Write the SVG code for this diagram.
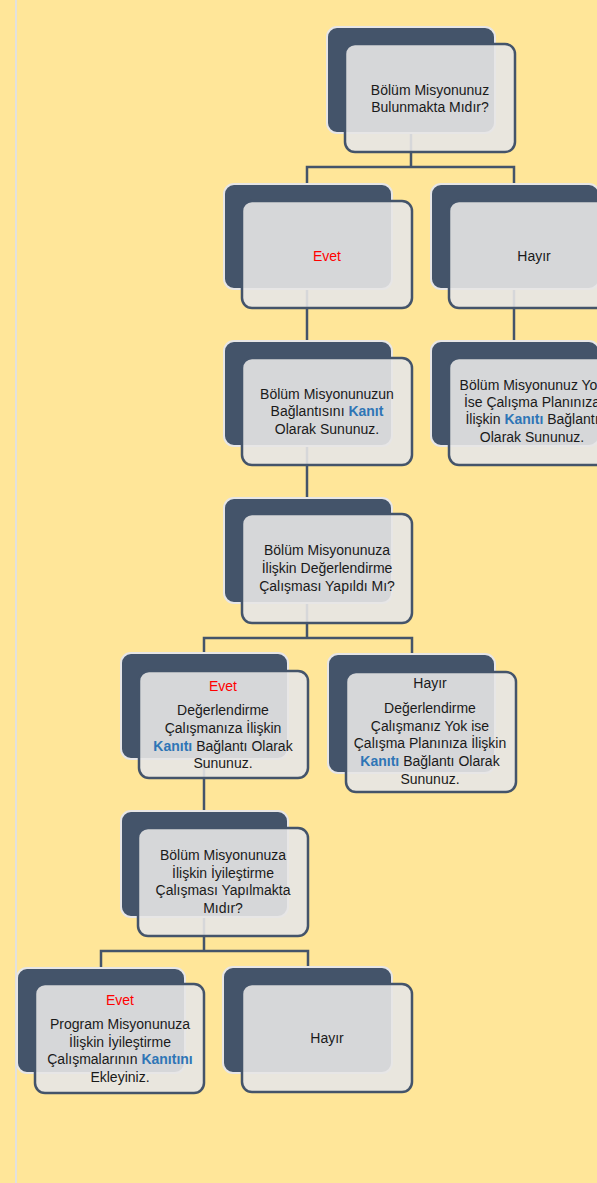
<svg xmlns="http://www.w3.org/2000/svg" width="597" height="1183" viewBox="0 0 597 1183">
<style>
.bg{fill:#FFE699}
.back{fill:#44546A;stroke:#E7E6E6;stroke-width:2}
.front{fill:#E7E6E6;fill-opacity:0.9;stroke:#44546A;stroke-width:2.5}
.conn{fill:none;stroke:#44546A;stroke-width:2.5}
text{font-family:"Liberation Sans",Arial,sans-serif;font-size:14px;fill:#1A1A1A;text-anchor:middle}
.red{fill:#FF0000}
.k{fill:#2E75B6;font-weight:bold}
</style>
<rect class="bg" x="0" y="0" width="597" height="1183"/>
<line x1="16" y1="0" x2="16" y2="1183" stroke="#E2E0DE" stroke-width="2"/>
<g id="connectors">
<path class="conn" d="M411,80 V167 M307,184 V167 H514 V184"/>
<path class="conn" d="M307,240 V341"/>
<path class="conn" d="M514,240 V341"/>
<path class="conn" d="M307,400 V498"/>
<path class="conn" d="M307,560 V638 M204,653 V638 H412 V654"/>
<path class="conn" d="M204,700 V811"/>
<path class="conn" d="M204,870 V951 M101,968 V951 H308 V967"/>
</g>
<g id="n1">
<rect class="back" x="327" y="27" width="168" height="106" rx="10"/>
<rect class="front" x="345" y="44" width="170" height="108" rx="10"/>
<text x="430" y="95">Bölüm Misyonunuz</text>
<text x="430" y="112">Bulunmakta Mıdır?</text>
</g>
<g id="n2">
<rect class="back" x="224" y="184" width="168" height="105" rx="10"/>
<rect class="front" x="242" y="201" width="170" height="107" rx="10"/>
<text x="327" y="261" class="red">Evet</text>
</g>
<g id="n3">
<rect class="back" x="431" y="184" width="168" height="105" rx="10"/>
<rect class="front" x="449" y="201" width="170" height="107" rx="10"/>
<text x="534" y="261">Hayır</text>
</g>
<g id="n4">
<rect class="back" x="224" y="341" width="168" height="105" rx="10"/>
<rect class="front" x="242" y="358" width="170" height="107" rx="10"/>
<text x="327" y="399">Bölüm Misyonunuzun</text>
<text x="327" y="416">Bağlantısını <tspan class="k">Kanıt</tspan></text>
<text x="327" y="434">Olarak Sununuz.</text>
</g>
<g id="n5">
<rect class="back" x="431" y="341" width="168" height="105" rx="10"/>
<rect class="front" x="449" y="358" width="170" height="107" rx="10"/>
<text x="532" y="390">Bölüm Misyonunuz Yok</text>
<text x="532" y="407">İse Çalışma Planınıza</text>
<text x="532" y="424">İlişkin <tspan class="k">Kanıtı</tspan> Bağlantı</text>
<text x="532" y="442">Olarak Sununuz.</text>
</g>
<g id="n6">
<rect class="back" x="224" y="498" width="168" height="105" rx="10"/>
<rect class="front" x="242" y="514" width="170" height="109" rx="10"/>
<text x="327" y="555">Bölüm Misyonunuza</text>
<text x="327" y="573">İlişkin Değerlendirme</text>
<text x="327" y="591">Çalışması Yapıldı Mı?</text>
</g>
<g id="n7">
<rect class="back" x="121" y="653" width="167" height="106" rx="10"/>
<rect class="front" x="139" y="671" width="169" height="107" rx="10"/>
<text x="223" y="691" class="red">Evet</text>
<text x="223" y="715">Değerlendirme</text>
<text x="223" y="733">Çalışmanıza İlişkin</text>
<text x="223" y="751"><tspan class="k">Kanıtı</tspan> Bağlantı Olarak</text>
<text x="223" y="768">Sununuz.</text>
</g>
<g id="n8">
<rect class="back" x="328" y="654" width="167" height="119" rx="10"/>
<rect class="front" x="346" y="672" width="170" height="120" rx="10"/>
<text x="430" y="688">Hayır</text>
<text x="430" y="713">Değerlendirme</text>
<text x="430" y="731">Çalışmanız Yok ise</text>
<text x="430" y="748">Çalışma Planınıza İlişkin</text>
<text x="430" y="766"><tspan class="k">Kanıtı</tspan> Bağlantı Olarak</text>
<text x="430" y="784">Sununuz.</text>
</g>
<g id="n9">
<rect class="back" x="121" y="811" width="167" height="106" rx="10"/>
<rect class="front" x="138" y="828" width="170" height="108" rx="10"/>
<text x="223" y="860">Bölüm Misyonunuza</text>
<text x="223" y="878">İlişkin İyileştirme</text>
<text x="223" y="895">Çalışması Yapılmakta</text>
<text x="223" y="913">Mıdır?</text>
</g>
<g id="n10">
<rect class="back" x="17" y="968" width="168" height="105" rx="10"/>
<rect class="front" x="35" y="984" width="169" height="109" rx="10"/>
<text x="120" y="1005" class="red">Evet</text>
<text x="120" y="1029">Program Misyonunuza</text>
<text x="120" y="1047">İlişkin İyileştirme</text>
<text x="120" y="1064">Çalışmalarının <tspan class="k">Kanıtını</tspan></text>
<text x="120" y="1082">Ekleyiniz.</text>
</g>
<g id="n11">
<rect class="back" x="223" y="967" width="169" height="106" rx="10"/>
<rect class="front" x="242" y="984" width="170" height="108" rx="10"/>
<text x="327" y="1043">Hayır</text>
</g>
</svg>
